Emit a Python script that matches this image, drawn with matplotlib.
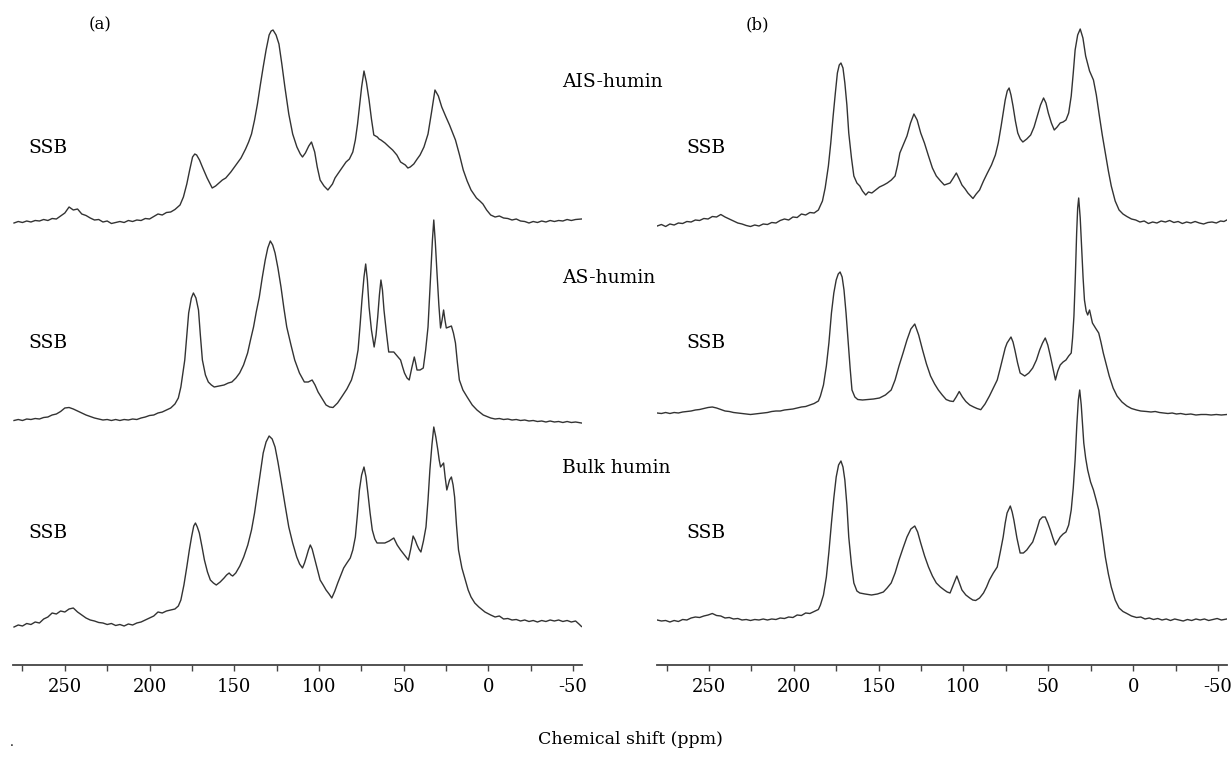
import matplotlib
matplotlib.use("Agg")
import matplotlib.pyplot as plt
import numpy as np

# 13C CP/MAS NMR spectra, (ppm, intensity)
ais_a = np.array([
    (280, -1), (277.5, 0.5), (275, -0.5), (272.5, 1), (270, 0), (267.5, 1.5), (265, 1), (262.5, 2.5),
    (260, 1.5), (257.5, 3.5), (255, 3), (252.5, 6), (250, 9), (247.5, 15), (245, 12), (242.5, 13),
    (240, 8), (237.5, 6.5), (235, 4), (232.5, 2), (230, 2.5), (227.5, 0), (225, 1), (222.5, -1.5),
    (220, -0.5), (217.5, 0.5), (215, -0.5), (212.5, 1.5), (210, 0.5), (207.5, 2), (205, 1.5),
    (202.5, 3.5), (200, 3), (197.5, 5.5), (195, 8), (192.5, 7), (190, 9.5), (187.5, 10), (185, 12.5),
    (182, 17), (180, 25), (178, 38), (176.3, 52), (174.6, 65), (173.3, 68), (172.2, 67), (170.5, 62),
    (168.8, 55), (166, 44), (163, 34), (161, 36), (159, 39), (157, 42), (155, 44), (152, 50), (149, 57),
    (146, 64), (143.3, 73), (141.5, 80), (139.8, 88), (138, 102), (136.3, 118), (134.6, 137),
    (132.9, 155), (131.2, 172), (129.4, 187), (128.2, 191), (127.1, 192), (125.3, 187), (123.6, 178),
    (121.9, 158), (120.1, 135), (117.8, 108), (115.5, 88), (113, 75), (111, 68), (109.7, 65), (108, 69),
    (106, 76), (104.4, 80), (102.5, 70), (101, 55), (99.3, 42), (97, 36), (94.7, 32), (92, 38),
    (90.5, 44), (88.9, 48), (86, 55), (84, 60), (82, 63), (80, 70), (78.5, 82), (77.2, 98), (76.1, 115),
    (74.8, 135), (73.4, 151), (72, 140), (70.4, 122), (69, 103), (67.6, 87), (65.5, 85), (64.5, 83),
    (63.4, 82), (61, 79), (58.5, 75), (56.5, 72), (54, 67), (51.8, 60), (49, 57), (47.5, 54), (46.1, 55),
    (44, 58), (42, 63), (40.3, 67), (38, 75), (35.6, 88), (33.5, 110), (31.5, 132), (29.5, 126),
    (27.5, 115), (25, 105), (22.9, 97), (21, 89), (19.4, 82), (17, 67), (14.8, 52), (12.5, 41),
    (10.2, 32), (7, 24), (5, 21), (3.2, 18), (1, 12), (-1.4, 7), (-4, 5), (-6.5, 6), (-9, 4),
    (-11.5, 3.5), (-14, 2), (-16.5, 3), (-19, 1), (-21.5, 0.5), (-24, -1), (-26.5, 0.5), (-29, -0.5),
    (-31.5, 1), (-34, 0), (-36.5, 1.5), (-39, 0.5), (-41.5, 1.5), (-44, 1), (-46.5, 2.5), (-49, 1.5),
    (-51.5, 2.5), (-55, 3),
])

as_a = np.array([
    (280, -0.5), (277.5, 0.5), (275, -0.5), (272.5, 1), (270, 0.5), (267.5, 1.5), (265, 1), (262.5, 2.5),
    (260, 3), (257.5, 5), (255, 6), (252.5, 8.5), (250, 12), (247.5, 12.5), (245, 11), (242.5, 9),
    (240, 7), (237.5, 5), (235, 3.5), (232.5, 2), (230, 1), (227.5, 0), (225, 0.5), (222.5, -0.5),
    (220, 0.5), (217.5, -0.5), (215, 0.5), (212.5, 0), (210, 1), (207.5, 0.5), (205, 2), (202.5, 3),
    (200, 4.5), (197.5, 5), (195, 7), (192.5, 8), (190, 10), (187.5, 12), (185, 16), (183, 22),
    (181.5, 33), (179.2, 60), (176.9, 107), (175.3, 122), (174.1, 127), (172.6, 122), (171.1, 110),
    (170, 85), (168.8, 60), (167, 45), (165.3, 38), (163.5, 35), (161.8, 33), (159, 34), (156, 35),
    (153.5, 37), (151.4, 38), (149, 42), (146.8, 47), (144.5, 55), (142.1, 67), (140.4, 80), (138.6, 93),
    (137, 108), (135.2, 123), (133.5, 142), (131.7, 160), (130.2, 172), (128.7, 179), (127.3, 175),
    (125.9, 167), (124.2, 152), (122.4, 133), (120.7, 112), (119, 93), (116.5, 75), (114.3, 60),
    (111.5, 47), (108.6, 38), (106.3, 38), (104, 40), (102.3, 35), (100.5, 28), (98, 21), (95.8, 15),
    (93.7, 13), (91.7, 12.5), (89, 17), (86.6, 23), (83.5, 31), (80.8, 40), (78.8, 52), (76.9, 70),
    (75.7, 95), (74.6, 120), (73.4, 143), (72.4, 156), (71.4, 140), (70.4, 113), (69, 90), (67.4, 73),
    (66.3, 85), (65.3, 103), (64.3, 125), (63.4, 140), (62.5, 130), (61.6, 110), (60.2, 88), (58.8, 68),
    (57.3, 68), (55.8, 68), (53.8, 64), (51.8, 60), (50.6, 53), (49.5, 47), (48, 42), (46.7, 40),
    (45.2, 52), (43.7, 63), (42.9, 57), (42.1, 50), (40.3, 50), (38.4, 52), (37, 70), (35.6, 93),
    (34.7, 122), (33.8, 153), (33, 180), (32.2, 200), (31.3, 178), (30.3, 147), (29.2, 115), (28.2, 92),
    (27.3, 100), (26.4, 110), (25.6, 100), (24.8, 92), (23.3, 93), (21.8, 94), (20.6, 87), (19.4, 77),
    (18.3, 58), (17.1, 40), (15, 30), (12.5, 23), (9.5, 15), (6.7, 10), (3, 5), (-1.4, 2), (-4, 1),
    (-6.5, 1.5), (-9, 0.5), (-11.5, 1), (-14, 0), (-16.5, 0.5), (-19, -0.5), (-21.5, 0), (-24, -1),
    (-26.5, -0.5), (-29, -1.5), (-31.5, -1), (-34, -2), (-36.5, -1), (-39, -2), (-41.5, -1.5),
    (-44, -2.5), (-46.5, -1.5), (-49, -2.5), (-51.5, -2), (-55, -3),
])

bulk_a = np.array([
    (280, -2), (277.5, 0), (275, -1), (272.5, 1.5), (270, 0.5), (267.5, 3), (265, 2), (262.5, 6),
    (260, 8), (257.5, 12), (255, 11), (252.5, 14), (250, 13), (247.5, 16), (245, 17), (242.5, 13),
    (240, 10), (237.5, 7), (235, 5), (232.5, 4), (230, 2.5), (227.5, 2), (225, 0.5), (222.5, 1.5),
    (220, -0.5), (217.5, 0.5), (215, -1), (212.5, 1), (210, 0), (207.5, 2), (205, 3), (202.5, 5),
    (200, 7), (197.5, 9), (195, 13), (192.5, 12), (190, 14), (187.5, 15), (185, 16), (183, 19),
    (181.5, 25), (179.7, 40), (178, 58), (176.5, 75), (175.2, 88), (173.9, 99), (172.9, 102),
    (171.8, 98), (170.6, 92), (169, 78), (167.6, 65), (165.8, 53), (164.1, 45), (162.3, 42), (160.6, 40),
    (158.3, 43), (156, 47), (154.5, 50), (153, 52), (151.9, 50), (150.9, 49), (149.1, 52), (146.7, 59),
    (144.4, 68), (142, 80), (139.8, 95), (138, 112), (136.3, 132), (134.6, 152), (132.9, 172),
    (131.2, 183), (129.4, 189), (127.6, 186), (125.9, 178), (124.2, 163), (122.4, 145), (120, 120),
    (117.8, 98), (115.5, 82), (113.1, 68), (111.4, 61), (109.7, 57), (108.5, 62), (107.4, 68),
    (106.2, 75), (105.1, 80), (104, 76), (102.8, 68), (101, 56), (99.3, 45), (97.5, 40), (95.8, 35),
    (94, 31), (92.4, 27), (90.6, 34), (88.9, 42), (87, 50), (85.4, 57), (83.5, 62), (81.5, 67), (80, 75),
    (78.5, 88), (77.3, 110), (76.1, 135), (74.8, 150), (73.4, 158), (72.2, 148), (71.1, 132),
    (69.8, 112), (68.5, 95), (67, 86), (65.7, 82), (63.4, 82), (61.1, 82), (58.5, 84), (55.8, 87),
    (53.8, 80), (51.8, 75), (49.5, 70), (47.2, 65), (45.8, 76), (44.4, 89), (43.2, 85), (42.1, 80),
    (41, 76), (39.8, 73), (38.3, 84), (36.8, 98), (35.6, 125), (34.5, 155), (33.3, 180), (32.2, 198),
    (31, 188), (29.8, 175), (29, 165), (28.2, 158), (27.3, 160), (26.4, 162), (25.5, 148), (24.5, 135),
    (23.7, 140), (22.9, 145), (21.8, 148), (20.8, 140), (19.9, 128), (18.8, 100), (17.6, 75),
    (15.6, 57), (13.6, 45), (11.9, 35), (10.2, 28), (8, 22), (5.6, 18), (2, 13), (-1.4, 10), (-4, 8),
    (-6.5, 9), (-9, 6), (-11.5, 6.5), (-14, 5), (-16.5, 5.5), (-19, 4), (-21.5, 5), (-24, 3.5),
    (-26.5, 4.5), (-29, 3), (-31.5, 4.5), (-34, 3.5), (-36.5, 5), (-39, 4), (-41.5, 5), (-44, 3.5),
    (-46.5, 4.5), (-49, 3), (-51.5, 4), (-53.5, 1), (-55, -1.5),
])

ais_b = np.array([
    (280.5, -3), (278, -1.5), (275.5, -3.5), (273, -1), (270.5, -2), (268, 0), (265.5, -0.5),
    (263, 1.5), (260.5, 1), (258, 3), (255.5, 2.5), (253, 4.5), (250.5, 4), (248, 6.5), (245.5, 6),
    (243, 8.5), (240.5, 6), (238, 4), (235.5, 2), (233, 0), (230.5, -1), (228, -2.5), (225.5, -3.5),
    (223, -2), (220.5, -3), (218, -1), (215.5, -1.5), (213, 0.5), (210.5, 0), (208, 2.5), (205.5, 4),
    (203, 3), (200.5, 6), (198, 5.5), (195.5, 9), (193, 8), (190.5, 10.5), (188, 10), (185.5, 13),
    (183.1, 22), (181.5, 35), (179.6, 57), (178.2, 80), (176.8, 107), (175.5, 130), (174.3, 150),
    (173.2, 158), (172.2, 160), (171, 155), (169.9, 140), (168.7, 118), (167.6, 90), (166, 65),
    (164.6, 47), (162.8, 40), (161.1, 37), (159.5, 32), (157.6, 28), (156, 31), (154, 30), (151.8, 33),
    (149.5, 36), (147, 38), (144.9, 40), (142.5, 43), (140.3, 47), (138.8, 58), (137.5, 70),
    (135.5, 78), (133.3, 87), (131.2, 100), (129.2, 109), (127.3, 103), (125.2, 90), (123, 80),
    (120.6, 67), (118.3, 55), (116, 47), (113.5, 42), (111.3, 38), (109.6, 39), (107.9, 40), (106, 45),
    (104.2, 50), (102.5, 44), (100.9, 38), (99, 34), (97.4, 30), (95.8, 27), (94.4, 24.5), (92.5, 29),
    (90.5, 33), (88.2, 42), (85.9, 50), (83.5, 58), (81.2, 68), (79.5, 80), (77.8, 97), (76.6, 110),
    (75.4, 123), (74.2, 132), (73.1, 135), (72, 128), (70.8, 117), (69.4, 102), (68, 90), (66.5, 84),
    (65, 81), (62.7, 84), (60.4, 88), (58.4, 96), (56.5, 107), (54.6, 118), (52.8, 125), (51.4, 120),
    (50, 110), (48.2, 100), (46.5, 93), (44.8, 96), (43, 100), (41.3, 101), (39.6, 103), (38, 110),
    (36.5, 127), (35.3, 150), (34.2, 173), (32.7, 188), (31.2, 194), (29.6, 185), (28, 167),
    (25.7, 152), (23.4, 143), (21.7, 128), (19.9, 107), (18.2, 88), (16.4, 70), (14.6, 52), (12.9, 37),
    (10.6, 22), (8.3, 13), (6, 9), (3.7, 6.5), (1, 4), (-1.5, 3), (-4, 1), (-6.5, 2), (-9, -0.5),
    (-11.5, 1), (-14, 0), (-16.5, 2), (-19, 1), (-21.5, 2.5), (-24, 0.5), (-26.5, 1.5), (-29, -0.5),
    (-31.5, 1), (-34, 0), (-36.5, 1.5), (-39, 0), (-41.5, -1), (-44, 0.5), (-46.5, 1), (-49, 0),
    (-51.5, 2), (-53.5, 1.5), (-55.2, 3),
])

as_b = np.array([
    (280.5, 0), (278, -0.5), (275.5, 0.5), (273, -0.5), (270.5, 0.5), (268, 0), (265.5, 1), (263, 1.5),
    (260.5, 2), (258, 3), (255.5, 3.5), (253, 4.5), (250.5, 5.5), (248, 6), (245.5, 5), (243, 3.5),
    (240.5, 2), (238, 1.5), (235.5, 0.5), (233, 0), (230.5, -0.5), (228, -1), (225.5, -1.5), (223, -1),
    (220.5, -0.5), (218, 0), (215.5, 0.5), (213, 1.5), (210.5, 2), (208, 2), (205.5, 3), (203, 3.5),
    (200.5, 4), (198, 5), (195.5, 6), (193, 6.5), (190.5, 8), (188, 9.5), (185.5, 12), (184.3, 17),
    (182.5, 28), (180.8, 47), (179.3, 70), (177.8, 100), (176.4, 120), (175, 133), (173.8, 139),
    (172.7, 141), (171.5, 136), (170.4, 123), (169.2, 100), (168, 73), (166.8, 45), (165.7, 23),
    (164, 16), (162.3, 13.5), (159.5, 13), (156.5, 13.5), (153, 14), (149.5, 15), (146, 18),
    (142.6, 23), (140.3, 33), (138, 47), (135.6, 60), (133.3, 73), (131, 84), (128.7, 89), (126.4, 78),
    (124.1, 63), (121.8, 49), (119.4, 37), (117, 29), (114.8, 23), (112.5, 18), (110.2, 13.5), (108, 12),
    (106, 11.5), (104.3, 16), (102.5, 21.5), (100.6, 16), (98.6, 11.5), (96.3, 8), (94, 6), (92, 4.5),
    (89.8, 3.3), (87.3, 9), (84.7, 17), (82.4, 25), (80.1, 33), (78.3, 45), (76.6, 57), (75.4, 65),
    (74.3, 70), (72, 76), (70.8, 71), (69.7, 63), (68.1, 50), (66.6, 40), (63.9, 37), (61.5, 40),
    (59.2, 45), (57, 53), (55.1, 63), (53.4, 70), (51.8, 75), (50.3, 68), (48.8, 57), (47.3, 45),
    (45.8, 33), (44.4, 42), (43, 48), (41.3, 51), (39.6, 53), (38, 57), (36.5, 60), (35.7, 75),
    (34.9, 97), (34.1, 135), (33.3, 180), (32.7, 205), (32.1, 215), (31.2, 195), (30.3, 163),
    (29.5, 135), (28.7, 113), (27.7, 102), (26.8, 98), (25.7, 103), (24.9, 97), (24, 90), (22.2, 85),
    (20.3, 80), (19, 71), (17.6, 60), (15.8, 48), (14.1, 37), (11.8, 25), (9.5, 17), (6.6, 11), (3.7, 7),
    (1, 4.5), (-2, 3), (-4.5, 2), (-7.9, 1.5), (-10.5, 1), (-13, 1.5), (-15.5, 0.5), (-18, 0),
    (-20.5, -0.5), (-23, 0), (-25.5, -1), (-28, -0.5), (-31, -1.5), (-34, -1), (-37, -2), (-40, -1.5),
    (-43, -1.5), (-46, -2), (-49, -1.5), (-52, -2), (-55.2, -1.5),
])

bulk_b = np.array([
    (280.5, 0), (278, -1), (275.5, -0.5), (273, -2), (270.5, -0.5), (268, -1.5), (265.5, 0.5), (263, 0),
    (260.5, 2), (258, 3), (255.5, 2.5), (253, 4), (250.5, 5), (248, 6.5), (245.5, 4.5), (243, 4),
    (240.5, 2), (238, 2.5), (235.5, 1), (233, 1.5), (230.5, 0), (228, 0.5), (225.5, -0.5), (223, 0.5),
    (220.5, 0), (218, 1), (215.5, 0), (213, 1), (210.5, 0.5), (208, 2), (205.5, 1.5), (203, 3),
    (200.5, 2.5), (198, 5), (195.5, 4.5), (193, 7), (190.5, 6.5), (188, 8.5), (185.5, 10.5),
    (184.3, 15), (182.5, 25), (180.8, 43), (179.3, 68), (177.8, 97), (176.4, 122), (175, 143),
    (173.6, 155), (172.2, 159), (171, 153), (169.9, 140), (168.7, 115), (167.6, 83), (166, 55),
    (164.6, 37), (162.8, 29), (161.1, 27), (158, 26), (154.2, 25), (150.7, 26), (147.2, 28), (145, 32),
    (142.6, 37), (140.3, 47), (138, 60), (135.6, 72), (133.3, 83), (131, 91), (128.7, 94), (127, 88),
    (125.2, 77), (122.9, 64), (120.6, 53), (118.3, 44), (116, 37), (113.6, 33), (111.3, 30),
    (109.6, 28), (107.9, 27), (106, 35), (103.9, 44), (102.4, 37), (100.9, 30), (98.6, 25), (96.3, 22),
    (94.5, 20), (92.8, 19.5), (90.5, 22), (88.2, 27), (86.4, 33), (84.7, 40), (82.4, 47), (80.1, 53),
    (78.3, 68), (76.6, 83), (75.4, 97), (74.3, 107), (72.4, 114), (71.3, 108), (70.3, 100), (68.5, 82),
    (66.6, 67), (64.7, 67), (62.7, 70), (61, 74), (59.2, 78), (57.2, 88), (55.1, 100), (53.4, 103),
    (51.8, 103), (50.3, 97), (48.8, 90), (47.3, 82), (45.8, 75), (44.4, 79), (43, 83), (41.3, 86),
    (39.6, 88), (38, 95), (36.5, 110), (35.3, 132), (34.2, 160), (33.2, 195), (32.3, 220), (31.5, 230),
    (30.6, 215), (29.1, 177), (28, 162), (26.8, 150), (25.1, 138), (23.4, 130), (21.8, 120),
    (20.3, 110), (18.4, 88), (16.4, 63), (14.6, 46), (12.9, 33), (10.6, 20), (8.3, 12), (6, 8.5),
    (3.7, 6.5), (1, 4), (-2, 2.5), (-4.5, 3), (-7, 1), (-9.5, 2), (-12, 0.5), (-14.5, 1.5), (-17, 0),
    (-19.5, 1), (-22, -0.5), (-24.5, 1), (-27, 0), (-29.5, -1), (-32, 0.5), (-34.5, -0.5), (-37, 1),
    (-39.5, 0), (-42, 1), (-44.5, -0.5), (-47, 0.5), (-49.5, 1.5), (-52, 0), (-55.2, 1),
])

panel_a = [ais_a, as_a, bulk_a]
panel_b = [ais_b, as_b, bulk_b]
offsets_a = [443, 245, 40]
offsets_b = [442, 252, 45]
sample_names = ["AIS-humin", "AS-humin", "Bulk humin"]
major_ticks = [250, 200, 150, 100, 50, 0, -50]
minor_ticks = [275, 225, 175, 125, 75, 25, -25]

plt.rcParams['font.family'] = ['DejaVu Serif']
W, H = 1232, 759
fig = plt.figure(figsize=(W / 100, H / 100), dpi=100)
line_col = '#333333'


def make_axes(x0, x1, spectra, offsets):
    ax = fig.add_axes([x0 / W, (H - 665) / H, (x1 - x0) / W, 665 / H])
    for spec, off in zip(spectra, offsets):
        ax.plot(spec[:, 0], spec[:, 1] + off, color=line_col, lw=1.0)
    ax.set_xlim(280.6, -55.3)
    ax.set_ylim(0, 665)
    for s in ['top', 'left', 'right']:
        ax.spines[s].set_visible(False)
    ax.spines['bottom'].set_color('#444444')
    ax.spines['bottom'].set_linewidth(1.3)
    ax.set_yticks([])
    ax.set_xticks(major_ticks)
    ax.set_xticks(minor_ticks, minor=True)
    ax.set_xticklabels([str(t) for t in major_ticks])
    ax.tick_params(axis='x', which='both', direction='out', length=4.5, width=1.0,
                   color='#444444', labelsize=13, pad=5)
    return ax


ax_a = make_axes(13, 582, panel_a, offsets_a)
ax_b = make_axes(657, 1227, panel_b, offsets_b)


def px_text(x, y, s, **kw):
    fig.text(x / W, 1 - y / H, s, va='center', **kw)


px_text(100, 25, "(a)", ha='center', fontsize=12)
px_text(757, 25, "(b)", ha='center', fontsize=12)
for name, y in zip(sample_names, [82, 278, 468]):
    px_text(562, y, name, ha='left', fontsize=13.5)
for y in [148, 343, 533]:
    px_text(28, y, "SSB", ha='left', fontsize=13.5)
    px_text(686, y, "SSB", ha='left', fontsize=13.5)
px_text(630, 740, "Chemical shift (ppm)", ha='center', fontsize=12.5)
px_text(12, 742, ".", ha='center', fontsize=9)

fig.savefig("out.png", dpi=100)
